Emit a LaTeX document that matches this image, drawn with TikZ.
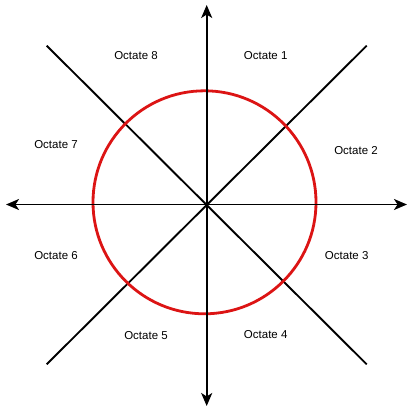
\documentclass[tikz,border=0pt]{standalone}
\usepackage{fontspec}
\setmainfont{Liberation Sans}
\usetikzlibrary{arrows.meta}
\definecolor{circred}{RGB}{220,20,20}
\tikzset{
  axis/.style={line width=1.9pt,-{Stealth[length=13pt,width=11pt,inset=3.5pt]}},
  diag/.style={line width=1.9pt},
  lbl/.style={font=\fontsize{11.5}{13}\selectfont,inner sep=0pt}
}
\begin{document}
\begin{tikzpicture}[x=1pt,y=-1pt]
\useasboundingbox (0,0) rectangle (412,409);
\coordinate (O) at (206.7,204.5);
\coordinate (L) at (6,204.5);
\coordinate (R) at (407,204.5);
\coordinate (T) at (206.7,5);
\coordinate (B) at (206.7,406);
\coordinate (D1) at (46.7,45.7);
\coordinate (D2) at (366.7,364.3);
\coordinate (D3) at (366.7,45.7);
\coordinate (D4) at (46.7,364.3);
\draw[diag] (D1) -- (D2);
\draw[diag] (D3) -- (D4);
\node[draw=circred,line width=2.8pt,circle,minimum size=223pt,inner sep=0pt] (C) at (204.5,202.3) {};
\draw[axis] (O) -- (R);
\draw[axis] (O) -- (L);
\draw[axis] (O) -- (T);
\draw[axis] (O) -- (B);
\node[lbl] (o1) at (265.7,55.7) {Octate 1};
\node[lbl] (o2) at (356,151) {Octate 2};
\node[lbl] (o3) at (346.7,256) {Octate 3};
\node[lbl] (o4) at (265.7,335) {Octate 4};
\node[lbl] (o5) at (146,335.7) {Octate 5};
\node[lbl] (o6) at (56,256) {Octate 6};
\node[lbl] (o7) at (56,145) {Octate 7};
\node[lbl] (o8) at (136,55.7) {Octate 8};
\end{tikzpicture}
\end{document}
